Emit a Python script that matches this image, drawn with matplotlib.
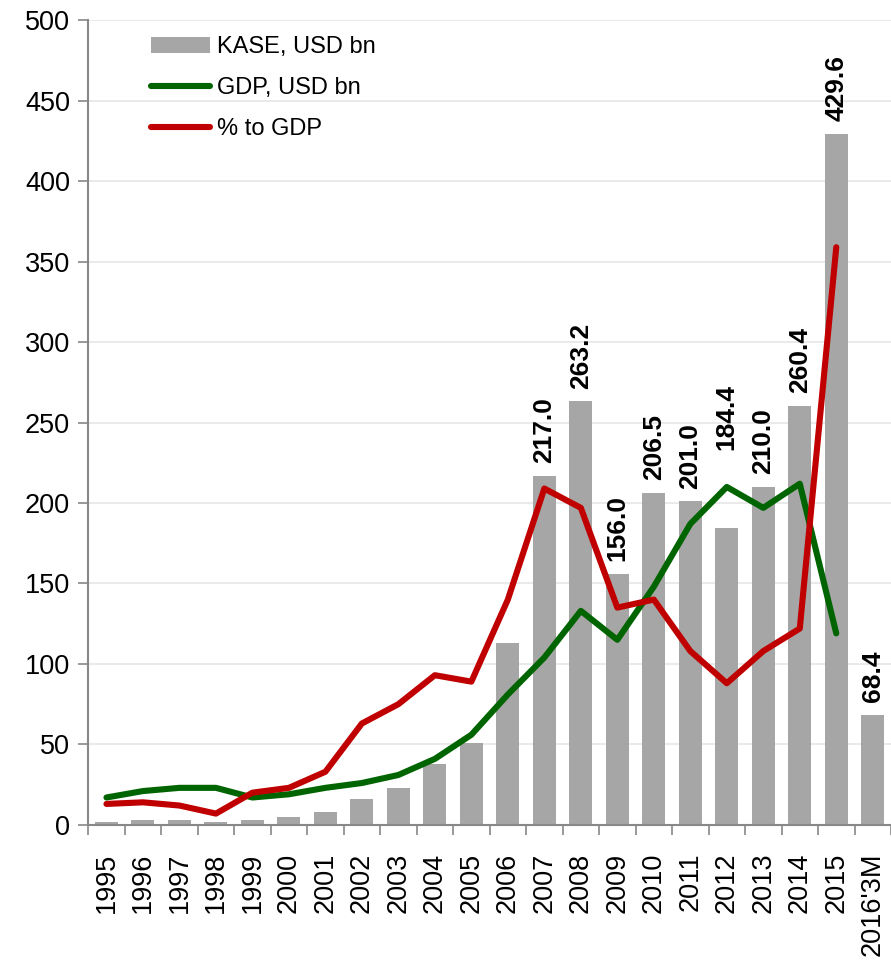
import numpy as np
import matplotlib
matplotlib.use("Agg")
import matplotlib.pyplot as plt

plt.rcParams['font.family'] = ['Liberation Sans', 'DejaVu Sans']

# Data
years = ["1995", "1996", "1997", "1998", "1999", "2000", "2001", "2002", "2003",
         "2004", "2005", "2006", "2007", "2008", "2009", "2010", "2011", "2012",
         "2013", "2014", "2015", "2016'3M"]
kase = [2, 3, 3, 2, 3, 5, 8, 16, 23, 38, 51, 113, 217.0, 263.2, 156.0, 206.5,
        201.0, 184.4, 210.0, 260.4, 429.6, 68.4]
gdp = [17, 21, 23, 23, 17, 19, 23, 26, 31, 41, 56, 81, 104, 133, 115, 148,
       187, 210, 197, 212, 119]
pct_gdp = [13, 14, 12, 7, 20, 23, 33, 63, 75, 93, 89, 140, 209, 197, 135, 140,
           108, 88, 108, 122, 359]
labelled = ["2007", "2008", "2009", "2010", "2011", "2012", "2013", "2014",
            "2015", "2016'3M"]

fig = plt.figure(figsize=(8.91, 9.67), dpi=100)
ax = fig.add_axes([0.099, 0.147, 0.901, 0.832])

x = np.arange(len(years))
h_bar = ax.bar(x, kase, width=0.63, color="#a6a6a6", label="KASE, USD bn", zorder=2)
h_gdp, = ax.plot(x[:len(gdp)], gdp, color="#006400", lw=4.4, label="GDP, USD bn",
                 solid_capstyle="round", solid_joinstyle="round", zorder=3)
h_pct, = ax.plot(x[:len(pct_gdp)], pct_gdp, color="#c00000", lw=4.4, label="% to GDP",
                 solid_capstyle="round", solid_joinstyle="round", zorder=3)

for xi, yr, v in zip(x, years, kase):
    if yr in labelled:
        # 2012 label sits higher, clear of the GDP line
        off = 56 if yr == "2012" else 9
        ax.annotate(f"{v:.1f}", (xi, v), xytext=(0, off), textcoords="offset points",
                    rotation=90, ha="center", va="bottom", fontsize=19,
                    fontweight="bold", zorder=4)

ax.set_xlim(-0.5, len(years) - 0.5)
ax.set_ylim(0, 500)
ax.set_yticks(np.arange(0, 501, 50))
ax.set_xticks(x)
ax.set_xticklabels(years, rotation=90)
ax.set_xticks(np.arange(-0.5, len(years), 1), minor=True)
ax.tick_params(axis="x", which="major", length=0, labelsize=19.5, pad=20)
ax.tick_params(axis="x", which="minor", length=7, width=1.2, color="#888888")
ax.tick_params(axis="y", length=7, width=1.2, color="#888888", labelsize=19.5, pad=6)

ax.grid(axis="y", color="#e6e6e6", lw=1.2, zorder=0)
ax.set_axisbelow(True)
for s in ["top", "right"]:
    ax.spines[s].set_visible(False)
for s in ["left", "bottom"]:
    ax.spines[s].set_color("#888888")
    ax.spines[s].set_linewidth(1.5)

ax.legend([h_bar, h_gdp, h_pct], ["KASE, USD bn", "GDP, USD bn", "% to GDP"],
          loc="upper left", bbox_to_anchor=(0.066, 0.992), frameon=False,
          fontsize=17, handlelength=2.5, handletextpad=0.3, labelspacing=0.8,
          borderaxespad=0)

fig.savefig("out.png", dpi=100)
